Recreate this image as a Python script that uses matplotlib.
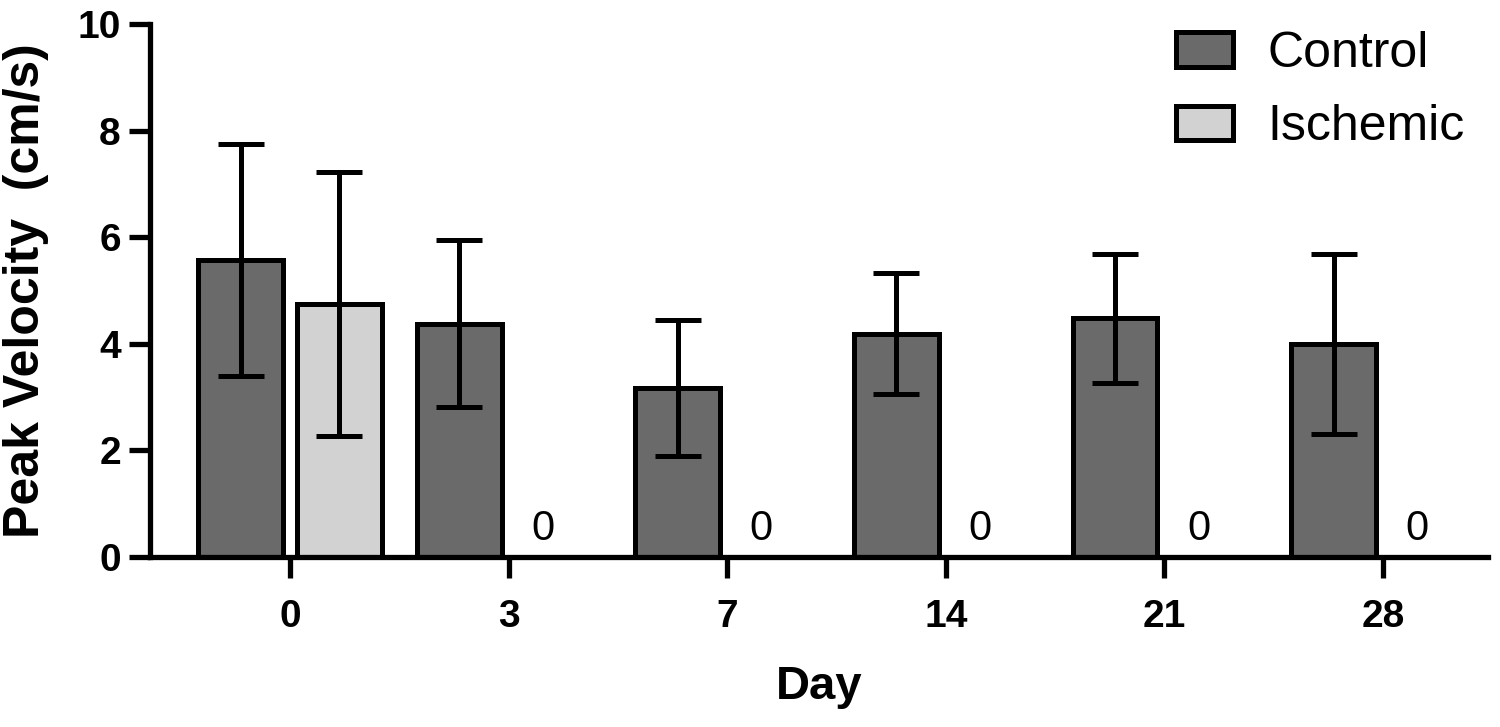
import numpy as np
import matplotlib
matplotlib.use("Agg")
import matplotlib.pyplot as plt

plt.rcParams['font.family'] = ['Liberation Sans', 'DejaVu Sans']

# data (mean +- SD)
days = ["0", "3", "7", "14", "21", "28"]
control_mean = [5.57, 4.38, 3.17, 4.19, 4.48, 4.00]
control_sd = [2.18, 1.56, 1.27, 1.13, 1.21, 1.69]
ischemic_mean = [4.75, 0, 0, 0, 0, 0]
ischemic_sd = [2.48, 0, 0, 0, 0, 0]

c_control = "#6a6a6a"
c_ischemic = "#d2d2d2"

fig = plt.figure(figsize=(15, 7.27), dpi=100)
ax = fig.add_axes([0.1, 0.2338, 0.892, 0.7332])

x = np.arange(len(days))
w = 0.388
off = 0.226
lw = 3.6

ax.bar(x - off, control_mean, w, color=c_control, edgecolor="black",
       linewidth=lw, label="Control", zorder=2)
ax.bar(x + off, ischemic_mean, w, color=c_ischemic, edgecolor="black",
       linewidth=lw, label="Ischemic", zorder=2)

ax.errorbar(x - off, control_mean, yerr=control_sd, fmt="none", ecolor="black",
            elinewidth=lw, capsize=16.5, capthick=lw, zorder=3)
isx = [xi + off for xi, m in zip(x, ischemic_mean) if m > 0]
ism = [m for m in ischemic_mean if m > 0]
iss = [s for s, m in zip(ischemic_sd, ischemic_mean) if m > 0]
ax.errorbar(isx, ism, yerr=iss, fmt="none", ecolor="black",
            elinewidth=lw, capsize=16.5, capthick=lw, zorder=3)

# "0" labels for empty ischemic bars
for xi, m in zip(x, ischemic_mean):
    if m == 0:
        ax.annotate("0", (xi + off, 0), xytext=(-11, 6), textcoords="offset points",
                    ha="center", va="bottom", fontsize=30)

ax.set_xlim(-0.64, 5.48)
ax.set_ylim(0, 10)
ax.set_yticks([0, 2, 4, 6, 8, 10])
ax.set_xticks(x)
ax.set_xticklabels(days)

for s in ["top", "right"]:
    ax.spines[s].set_visible(False)
for s in ["left", "bottom"]:
    ax.spines[s].set_linewidth(3.8)
    ax.spines[s].set_zorder(4)

ax.tick_params(axis="both", length=15, width=3.8, labelsize=28)
ax.tick_params(axis="y", pad=6)
ax.tick_params(axis="x", pad=15)
for lab in ax.get_xticklabels() + ax.get_yticklabels():
    lab.set_fontweight("bold")

ax.set_ylabel("Peak Velocity  (cm/s)", fontsize=36, fontweight="bold")
ax.yaxis.set_label_coords(-0.0755, 0.5)
ax.set_xlabel("Day", fontsize=34, fontweight="bold", labelpad=22)

ax.legend(loc="upper left", bbox_to_anchor=(1176 / 1500, 1 - 31 / 727),
          bbox_transform=fig.transFigure, frameon=False, fontsize=36,
          handlelength=1.14, handleheight=0.68, handletextpad=0.68,
          labelspacing=0.55, borderpad=0, borderaxespad=0)

fig.savefig("out.png", dpi=100)
